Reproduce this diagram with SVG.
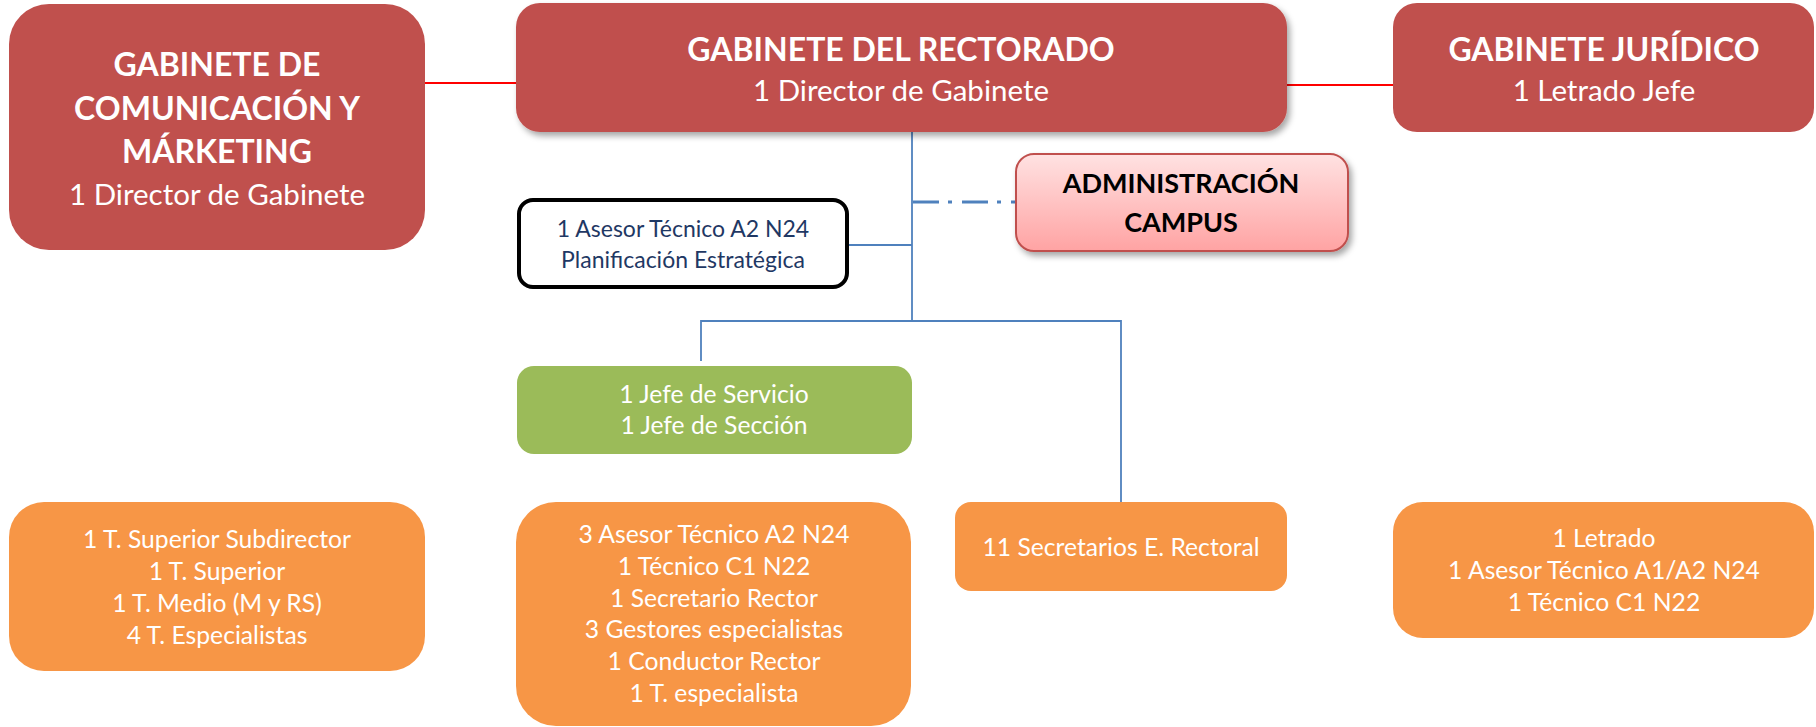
<svg xmlns="http://www.w3.org/2000/svg" width="1816" height="727" viewBox="0 0 1816 727">
<defs>
<filter id="sh" x="-10%" y="-10%" width="125%" height="140%">
<feDropShadow dx="3" dy="4" stdDeviation="3" flood-color="#000" flood-opacity="0.35"/>
</filter>
<linearGradient id="pink" x1="0" y1="0" x2="0" y2="1">
<stop offset="0" stop-color="#FFE2E2"/>
<stop offset="1" stop-color="#FFA3A3"/>
</linearGradient>
</defs>
<style>
text{font-family:Lato,"Liberation Sans",sans-serif;text-anchor:middle}
.red{fill:#C0504D}
.org{fill:#F79646}
.grn{fill:#9BBB59}
.t{fill:#fff;font-weight:bold;font-size:32px}
.s{fill:#fff;font-size:29.5px}
.w{fill:#fff;font-size:24.7px}
.blue{fill:none;stroke:#4F81BD;stroke-width:1.8}
.rl{fill:none;stroke:#FF0000;stroke-width:2.2}
</style>
<rect width="1816" height="727" fill="#fff"/>
<g id="connectors">
<line class="rl" x1="418" y1="83" x2="517" y2="83"/>
<line class="rl" x1="1286" y1="85" x2="1394" y2="85"/>
<polyline class="blue" points="912,130 912,321"/>
<polyline class="blue" points="848,245 912,245"/>
<polyline class="blue" points="701,361 701,321 1121,321 1121,503"/>
<line x1="913" y1="202" x2="1016" y2="202" stroke="#4F81BD" stroke-width="3.2" stroke-dasharray="26 9 4 10"/>
</g>
<g id="n-comunicacion">
<rect class="red" x="9" y="4" width="416" height="246" rx="40"/>
<text class="t" x="217" y="76">GABINETE DE</text>
<text class="t" x="217" y="120">COMUNICACIÓN Y</text>
<text class="t" x="217" y="163">MÁRKETING</text>
<text class="s" x="217" y="205">1 Director de Gabinete</text>
</g>
<g id="n-rectorado">
<rect class="red" x="516" y="3" width="771" height="129" rx="24" filter="url(#sh)"/>
<text class="t" x="901" y="61">GABINETE DEL RECTORADO</text>
<text class="s" x="901" y="101">1 Director de Gabinete</text>
</g>
<g id="n-juridico">
<rect class="red" x="1393" y="3" width="421" height="129" rx="24"/>
<text class="t" x="1604" y="61">GABINETE JURÍDICO</text>
<text class="s" x="1604" y="101">1 Letrado Jefe</text>
</g>
<g id="n-asesor">
<rect x="519" y="200" width="328" height="87" rx="14" fill="#fff" stroke="#000" stroke-width="4"/>
<text x="683" y="237" font-size="23" fill="#1F3864">1 Asesor Técnico A2 N24</text>
<text x="683" y="268" font-size="23" fill="#1F3864">Planificación Estratégica</text>
</g>
<g id="n-admin">
<rect x="1016" y="154" width="332" height="97" rx="18" fill="url(#pink)" stroke="#C0504D" stroke-width="2" filter="url(#sh)"/>
<text x="1181" y="193" font-size="27" font-weight="bold" fill="#000">ADMINISTRACIÓN</text>
<text x="1181" y="232" font-size="27" font-weight="bold" fill="#000">CAMPUS</text>
</g>
<g id="n-jefes">
<rect class="grn" x="517" y="366" width="395" height="88" rx="17"/>
<text class="w" x="714" y="403">1 Jefe de Servicio</text>
<text class="w" x="714" y="434">1 Jefe de Sección</text>
</g>
<g id="n-comunicacion-staff">
<rect class="org" x="9" y="502" width="416" height="169" rx="35"/>
<text class="w" x="217" y="548">1 T. Superior Subdirector</text>
<text class="w" x="217" y="580">1 T. Superior</text>
<text class="w" x="217" y="612">1 T. Medio (M y RS)</text>
<text class="w" x="217" y="644">4 T. Especialistas</text>
</g>
<g id="n-rectorado-staff">
<rect class="org" x="516" y="502" width="395" height="224" rx="40"/>
<text class="w" x="714" y="543">3 Asesor Técnico A2 N24</text>
<text class="w" x="714" y="575">1 Técnico C1 N22</text>
<text class="w" x="714" y="607">1 Secretario Rector</text>
<text class="w" x="714" y="638">3 Gestores especialistas</text>
<text class="w" x="714" y="670">1 Conductor Rector</text>
<text class="w" x="714" y="702">1 T. especialista</text>
</g>
<g id="n-secretarios">
<rect class="org" x="955" y="502" width="332" height="89" rx="16"/>
<text class="w" x="1121" y="556">11 Secretarios E. Rectoral</text>
</g>
<g id="n-juridico-staff">
<rect class="org" x="1393" y="502" width="421" height="136" rx="30"/>
<text class="w" x="1604" y="547">1 Letrado</text>
<text class="w" x="1604" y="579">1 Asesor Técnico A1/A2 N24</text>
<text class="w" x="1604" y="611">1 Técnico C1 N22</text>
</g>
</svg>
